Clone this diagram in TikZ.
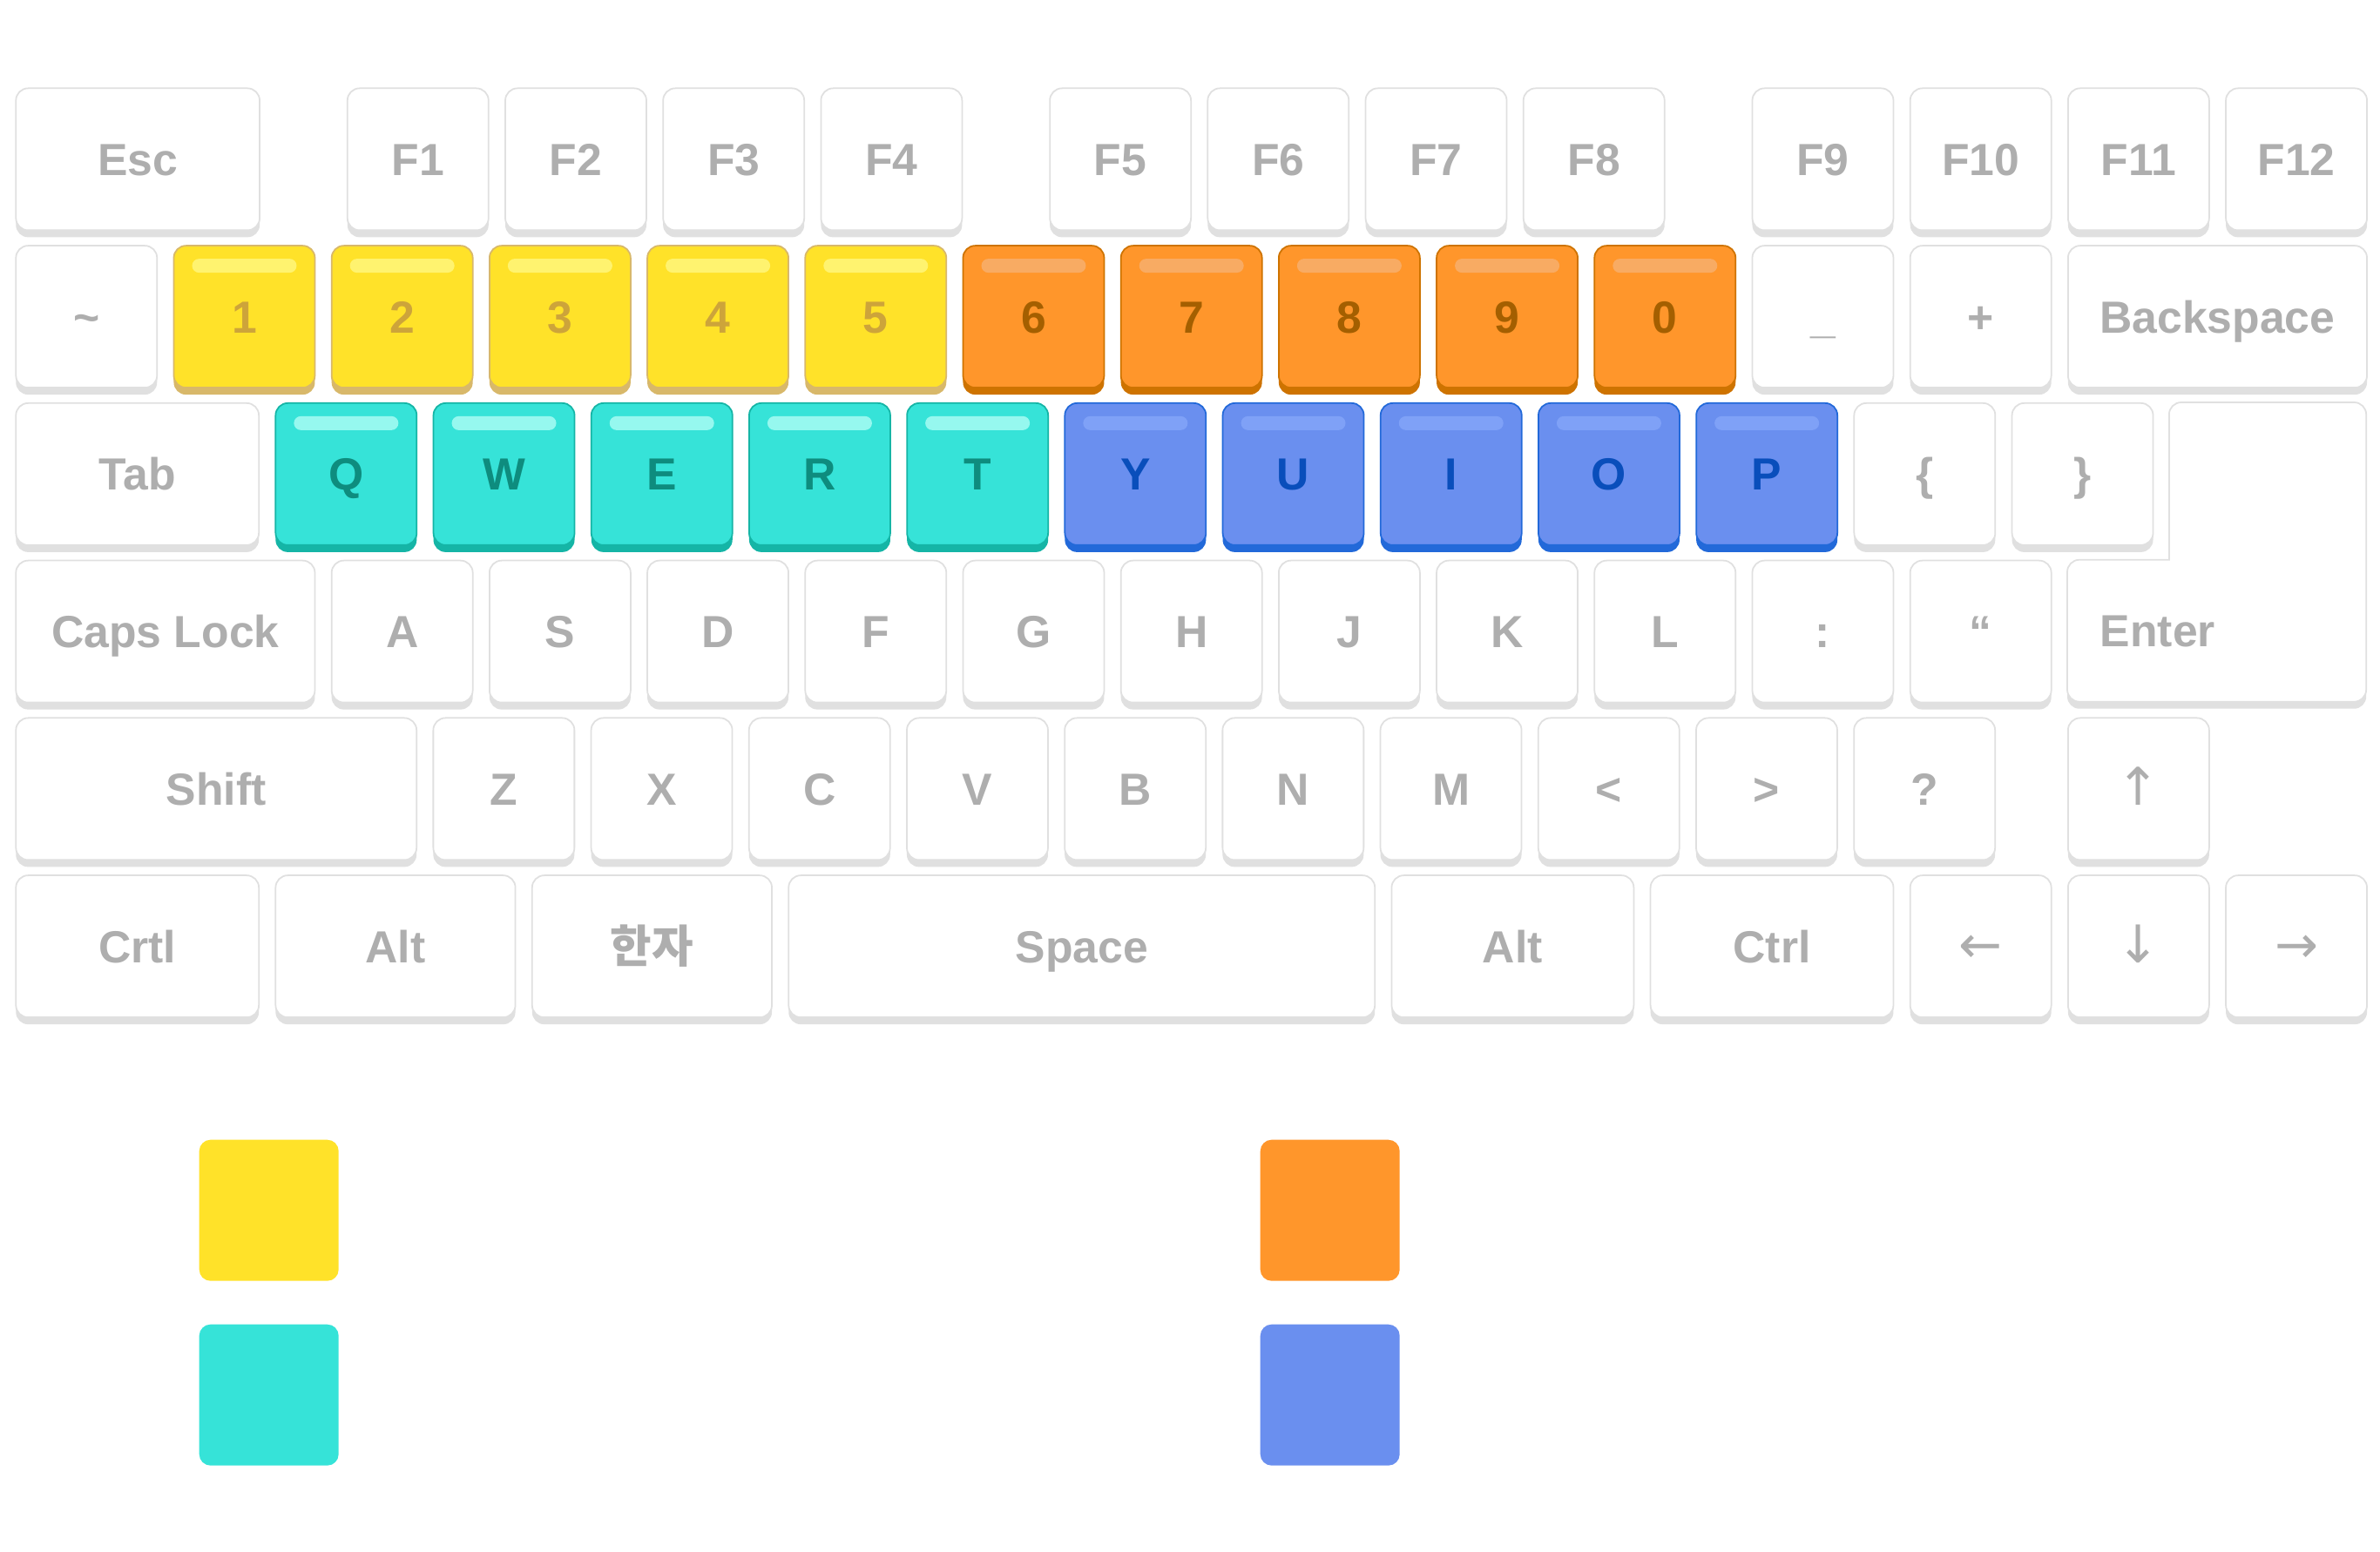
\documentclass[tikz,border=0pt]{standalone}
\usepackage{fontspec}
\usepackage{tikz}
\usetikzlibrary{shadows}

\newfontfamily\keyfont{Liberation Sans}
\newfontfamily\krfont{Noto Sans CJK KR}
\newfontfamily\arrowfont{DejaVu Sans}

\definecolor{keyline}{HTML}{E0E0E0}
\definecolor{keytext}{HTML}{AEAEAE}
\definecolor{keyyellow}{HTML}{FFE229}
\definecolor{yellowline}{HTML}{D8B86A}
\definecolor{yellowtext}{HTML}{CDA43A}
\definecolor{yellowlight}{HTML}{FFF36F}
\definecolor{keyorange}{HTML}{FF962B}
\definecolor{orangeline}{HTML}{CE7300}
\definecolor{orangetext}{HTML}{A45F00}
\definecolor{orangelight}{HTML}{F8AB63}
\definecolor{keyteal}{HTML}{36E3D8}
\definecolor{tealline}{HTML}{15B5A6}
\definecolor{tealtext}{HTML}{0E8C7E}
\definecolor{teallight}{HTML}{96F8EF}
\definecolor{keyblue}{HTML}{6A8FEF}
\definecolor{blueline}{HTML}{2269D9}
\definecolor{bluetext}{HTML}{094EBB}
\definecolor{bluelight}{HTML}{7FA1F7}

% one key: name, column, row, width (in key pitches), style, label
\newcommand{\keycap}[6]{%
  \node[#5, minimum width={(#4)*1.812cm-0.192cm}, anchor=north west] (#1)
    at ({0.174+(#2)*1.812},{-1.005-1.8075*(#3)}) {#6};}

\begin{document}
\begin{tikzpicture}[
  basekey/.style={draw=keyline,fill=white,line width=0.5pt,rounded corners=0.14cm,
    minimum height=1.63cm,inner sep=0pt,text=keytext,
    font=\keyfont\bfseries\fontsize{14.7}{17}\selectfont,text height=10.5pt,text depth=0pt},
  key/.style={basekey,general shadow={fill=keyline,shadow yshift=-0.08cm}},
  colorkey/.style n args={4}{basekey,fill=#1,draw=#2,text=#3,
    general shadow={fill=#2,shadow yshift=-0.08cm},
    path picture={\fill[#4,rounded corners=0.08cm]
      ([xshift=0.21cm,yshift=-0.15cm]path picture bounding box.north west) rectangle
      ([xshift=-0.21cm,yshift=-0.31cm]path picture bounding box.north east);}},
  yellowkey/.style={colorkey={keyyellow}{yellowline}{yellowtext}{yellowlight}},
  orangekey/.style={colorkey={keyorange}{orangeline}{orangetext}{orangelight}},
  tealkey/.style={colorkey={keyteal}{tealline}{tealtext}{teallight}},
  bluekey/.style={colorkey={keyblue}{blueline}{bluetext}{bluelight}},
  arrowlabel/.style={font=\arrowfont\fontsize{17}{20}\selectfont},
  legend/.style={rounded corners=0.13cm,minimum width=1.6cm,minimum height=1.62cm,
    inner sep=0pt,anchor=north west}
]
\fill[white] (0,0) rectangle (27.32,-17.82);
\useasboundingbox (0,0) rectangle (27.32,-17.82);

% function row
\keycap{esc}{0}{0}{1.65}{key}{Esc}
\foreach \c/\t in {2.1/1,3.1/2,4.1/3,5.1/4,6.55/5,7.55/6,8.55/7,9.55/8,11/9,12/10,13/11,14/12}
  {\keycap{f\t}{\c}{0}{1}{key}{F\t}}

% number row
\keycap{tilde}{0}{1}{1}{key}{\textasciitilde}
\foreach \t in {1,...,5}
  {\keycap{k\t}{\t}{1}{1}{yellowkey}{\t}}
\foreach \c/\t in {6/6,7/7,8/8,9/9,10/0}
  {\keycap{k\t}{\c}{1}{1}{orangekey}{\t}}
\keycap{minus}{11}{1}{1}{key}{\_}
\keycap{plus}{12}{1}{1}{key}{+}
\keycap{bksp}{13}{1}{2}{key}{Backspace}

% top letter row
\keycap{tab}{0}{2}{1.645}{key}{Tab}
\foreach \t [count=\i from 0] in {Q,W,E,R,T}
  {\keycap{k\t}{1.645+\i}{2}{1}{tealkey}{\t}}
\foreach \t [count=\i from 0] in {Y,U,I,O,P}
  {\keycap{k\t}{6.645+\i}{2}{1}{bluekey}{\t}}
\keycap{lbrace}{11.645}{2}{1}{key}{\{}
\keycap{rbrace}{12.645}{2}{1}{key}{\}}

% home row
\keycap{caps}{0}{3}{2}{key}{Caps Lock}
\foreach \t [count=\i from 2] in {A,S,D,F,G,H,J,K,L}
  {\keycap{k\t}{\i}{3}{1}{key}{\t}}
\keycap{colon}{11}{3}{1}{key}{:}
\keycap{quote}{12}{3}{1}{key}{“}

% enter (L-shaped)
\fill[keyline,rounded corners=0.14cm] ({0.174+13*1.812},-6.4275) rectangle (27.162,-8.1375);
\draw[draw=keyline,fill=white,line width=0.5pt,line cap=rect,rounded corners=0.14cm]
  ({0.174+13.645*1.812},-6.4275) -- ({0.174+13.645*1.812},-4.62) -- (27.162,-4.62)
  -- (27.162,-8.0575) -- ({0.174+13*1.812},-8.0575) -- ({0.174+13*1.812},-6.4275)
  -- ({0.174+13.645*1.812},-6.4275);
\node[basekey,draw=none,fill=none,minimum height=0pt,anchor=west] (enter) at (24.1,-7.2425) {Enter};

% bottom letter row
\keycap{shift}{0}{4}{2.644}{key}{Shift}
\foreach \t [count=\i from 0] in {Z,X,C,V,B,N,M}
  {\keycap{k\t}{2.644+\i}{4}{1}{key}{\t}}
\keycap{less}{9.644}{4}{1}{key}{<}
\keycap{greater}{10.644}{4}{1}{key}{>}
\keycap{quest}{11.644}{4}{1}{key}{?}
\keycap{up}{13}{4}{1}{key,arrowlabel}{↑}

% space row
\keycap{lctrl}{0}{5}{1.645}{key}{Crtl}
\keycap{lalt}{1.645}{5}{1.625}{key}{Alt}
\keycap{hanja}{3.27}{5}{1.625}{key}{\krfont 한자}
\keycap{space}{4.895}{5}{3.82}{key}{Space}
\keycap{ralt}{8.715}{5}{1.64}{key}{Alt}
\keycap{rctrl}{10.355}{5}{1.645}{key}{Ctrl}
\keycap{left}{12}{5}{1}{key,arrowlabel}{←}
\keycap{down}{13}{5}{1}{key,arrowlabel}{↓}
\keycap{right}{14}{5}{1}{key,arrowlabel}{→}

% legend
\node[legend,fill=keyyellow] (legyellow) at (2.28,-13.08) {};
\node[legend,fill=keyteal] (legteal) at (2.28,-15.2) {};
\node[legend,fill=keyorange] (legorange) at (14.46,-13.08) {};
\node[legend,fill=keyblue] (legblue) at (14.46,-15.2) {};
\end{tikzpicture}
\end{document}
